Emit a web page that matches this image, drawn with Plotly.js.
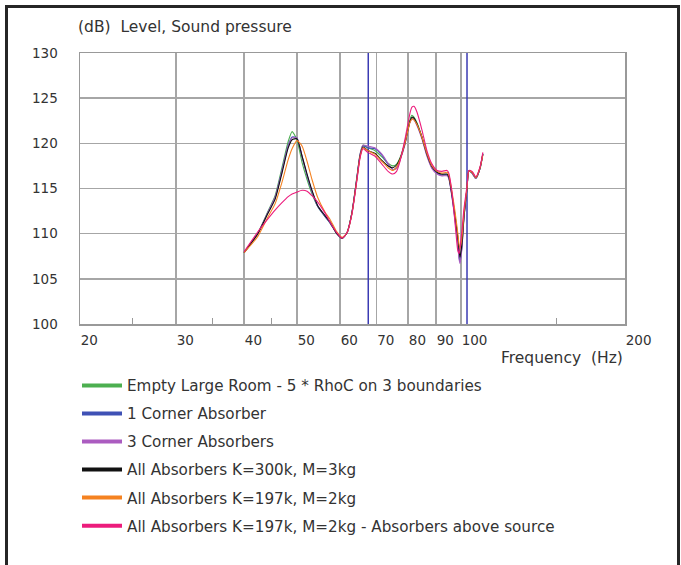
<!DOCTYPE html>
<html>
<head>
<meta charset="utf-8">
<script src="https://cdn.plot.ly/plotly-3.0.1.min.js"></script>
<style>
html, body { margin:0; padding:0; overflow:hidden; background:#fff; width:681px; height:565px; }
#chart { position:absolute; left:0; top:0; width:681px; height:565px; }
#frame { position:absolute; left:5px; top:5px; width:669px; height:640px; border:3px solid #262626; pointer-events:none; z-index:10; }
</style>
</head>
<body>
<div id="chart"></div>
<div id="frame"></div>
<script>
// Frequencies (Hz) shared by all series
const freq = [40, 42.4, 44.2, 45.6, 46.9, 48.2, 49, 50, 51.1, 52.2, 53.3, 54.6, 56.3, 57.5, 59.2, 60.5, 61.8, 63.1, 64.4, 65.3, 66.1, 67.5, 69.5, 71.6, 73.5, 75, 76.2, 77.3, 78.9, 80.6, 81.3, 82, 83, 84.8, 86.6, 88.5, 90.4, 92.3, 94.3, 95, 96.3, 97.5, 98.7, 99.2, 99.6, 100.4, 101.3, 102.6, 103.4, 104.8, 106.5, 108.4, 109.7];

const emptyRoom = [107.9, 110.1, 112.4, 114.2, 117.2, 120.2, 121.3, 120.4, 117.9, 116.0, 114.4, 113.0, 111.9, 111.2, 110.0, 109.5, 110.1, 112.4, 116.2, 118.8, 119.8, 119.5, 119.2, 118.5, 117.8, 117.5, 117.7, 118.4, 120.1, 122.6, 123.1, 122.9, 122.3, 120.7, 118.8, 117.3, 116.7, 116.5, 116.5, 116.2, 114.2, 111.8, 109.2, 107.8, 107.0, 108.5, 111.8, 115.0, 116.9, 116.7, 116.1, 117.2, 118.8];
const oneCorner = [107.9, 110.0, 112.3, 114.0, 116.9, 119.8, 120.7, 120.6, 118.5, 116.4, 114.6, 113.0, 111.9, 111.2, 110.0, 109.5, 110.1, 112.3, 116.1, 118.7, 119.7, 119.5, 119.4, 118.7, 117.7, 117.1, 117.3, 118.2, 119.9, 122.4, 122.8, 122.7, 122.1, 120.6, 118.7, 117.3, 116.7, 116.5, 116.5, 116.2, 114.1, 111.7, 109.0, 107.4, 106.9, 108.5, 111.9, 115.0, 117.0, 116.7, 116.1, 117.2, 118.8];
const threeCorners = [107.9, 110.0, 112.3, 114.0, 116.8, 119.7, 120.6, 120.6, 118.6, 116.5, 114.7, 113.1, 112.0, 111.3, 110.0, 109.5, 110.1, 112.3, 116.1, 118.8, 119.8, 119.7, 119.5, 118.8, 117.8, 117.1, 117.2, 118.1, 119.8, 122.3, 122.7, 122.6, 122.0, 120.5, 118.6, 117.2, 116.6, 116.4, 116.4, 116.1, 114.0, 111.5, 108.7, 107.2, 106.7, 108.3, 111.8, 115.0, 117.0, 116.7, 116.1, 117.2, 118.9];
const allK300 = [107.9, 110.0, 112.2, 113.8, 116.6, 119.5, 120.4, 120.5, 118.6, 116.6, 114.8, 113.1, 112.0, 111.3, 110.0, 109.5, 110.1, 112.3, 116.0, 118.6, 119.6, 119.2, 118.9, 118.1, 117.5, 117.3, 117.6, 118.3, 120.0, 122.4, 122.9, 122.8, 122.2, 120.7, 118.8, 117.4, 116.8, 116.6, 116.6, 116.3, 114.3, 112.1, 109.6, 108.3, 107.4, 108.8, 112.0, 115.0, 116.9, 116.8, 116.2, 117.3, 118.8];
const allK197 = [107.9, 109.7, 111.8, 113.3, 115.6, 118.2, 119.4, 120.3, 119.7, 118.0, 116.0, 114.0, 112.4, 111.6, 110.2, 109.6, 110.1, 112.2, 115.9, 118.5, 119.5, 119.2, 118.8, 118.0, 117.3, 117.0, 117.4, 118.2, 120.0, 122.3, 122.7, 122.6, 122.1, 120.7, 118.9, 117.5, 116.9, 116.7, 116.8, 116.5, 114.6, 112.5, 110.0, 108.8, 108.4, 109.5, 112.3, 115.1, 116.9, 116.8, 116.2, 117.3, 118.7];
const allK197Above = [108.0, 110.2, 111.6, 112.6, 113.4, 114.1, 114.4, 114.6, 114.8, 114.7, 114.2, 113.5, 112.3, 111.3, 110.1, 109.5, 110.1, 112.2, 115.8, 118.4, 119.4, 119.0, 118.6, 117.7, 116.9, 116.6, 116.9, 118.0, 120.4, 123.3, 124.0, 124.1, 123.5, 121.5, 119.2, 117.7, 117.0, 116.9, 117.0, 116.7, 114.6, 111.3, 108.1, 107.8, 108.4, 110.3, 112.8, 115.3, 117.0, 116.9, 116.3, 117.4, 119.0];

const seriesNames = [
  "Empty Large Room - 5 * RhoC on 3 boundaries",
  "1 Corner Absorber",
  "3 Corner Absorbers",
  "All Absorbers K=300k, M=3kg",
  "All Absorbers K=197k, M=2kg",
  "All Absorbers K=197k, M=2kg - Absorbers above source"
];
const seriesValues = [emptyRoom, oneCorner, threeCorners, allK300, allK197, allK197Above];
const seriesColors = ["#4caf50", "#3f51b5", "#ab5cc0", "#111111", "#f58220", "#ec1c7c"];

// Vertical marker lines (Hz)
const markerFreqs = [67.6, 102.6];
const markerSpan = [100, 130];

const xTickVals = [20, 30, 40, 50, 60, 70, 80, 90, 100, 200];
const xTickText = ["20", "30", "40", "50", "60", "70", "80", "90", "100", "200"];
const xMinorTicks = [25, 35, 45, 150];
const yTickVals = [100, 105, 110, 115, 120, 125, 130];

const FONT = "DejaVu Sans, Verdana, sans-serif";
const TXT = 15.5;
const LEG = 15.2;
const traces = [];

markerFreqs.forEach(f => {
  traces.push({x: [f, f], y: markerSpan, mode: "lines", line: {color: "#3b3bb3", width: 1.5},
    showlegend: false, hoverinfo: "skip"});
});

seriesValues.forEach((vals, i) => {
  traces.push({x: freq, y: vals, mode: "lines", name: seriesNames[i],
    line: {color: seriesColors[i], width: 1.1, shape: "spline", smoothing: 0.6}, showlegend: false});
});

// legend-only entries with thick swatches
seriesNames.forEach((n, i) => {
  traces.push({x: [null], y: [null], mode: "lines", name: n, legendgroup: "g" + i,
    line: {color: seriesColors[i], width: 4}, showlegend: true, hoverinfo: "skip"});
});

const layout = {
  width: 681, height: 565,
  margin: {l: 80, r: 56, t: 53, b: 241, autoexpand: false},
  paper_bgcolor: "rgba(0,0,0,0)",
  plot_bgcolor: "#ffffff",
  font: {family: FONT, size: 13, color: "#333333"},
  title: {text: "(dB)\u00A0 Level, Sound pressure", xref: "container", yref: "container",
    x: 78/681, xanchor: "left", y: 1 - 27/565, yanchor: "middle",
    font: {family: FONT, size: TXT, color: "#333333"}},
  xaxis: {type: "log", range: [Math.log10(20), Math.log10(200)], automargin: false,
    tickmode: "array", tickvals: xTickVals, ticktext: xTickText, tickangle: 0,
    ticks: "", showgrid: true, gridcolor: "#a6a6a6", gridwidth: 1.5,
    showline: true, linecolor: "#999999", linewidth: 1.5, mirror: true,
    ticklabelposition: "outside right", ticklabelstandoff: 3,
    tickfont: {family: FONT, size: 13.5, color: "#333333"},
    minor: {tickmode: "array", tickvals: xMinorTicks, ticks: "inside", ticklen: 6, tickcolor: "#999999", tickwidth: 1, showgrid: false},
    zeroline: false, fixedrange: true},
  yaxis: {range: [100, 130], tickmode: "array", tickvals: yTickVals, automargin: false,
    ticks: "", showgrid: true, gridcolor: "#a6a6a6", gridwidth: 1.5,
    showline: true, linecolor: "#999999", linewidth: 1.5, mirror: true,
    ticklabelstandoff: 18,
    tickfont: {family: FONT, size: 13.5, color: "#333333"},
    zeroline: false, fixedrange: true},
  showlegend: true,
  legend: {xref: "container", yref: "container", x: 77/681, xanchor: "left",
    y: 1 - 369/565, yanchor: "top", bgcolor: "rgba(0,0,0,0)", borderwidth: 0,
    font: {family: FONT, size: LEG, color: "#333333"}, tracegroupgap: 5.3, itemwidth: 40,
    traceorder: "grouped"},
  annotations: [{text: "Frequency\u00A0 (Hz)", xref: "paper", yref: "paper", x: 1, xanchor: "right",
    y: -34/271, yanchor: "middle", showarrow: false, font: {family: FONT, size: TXT, color: "#333333"}}]
};

Plotly.newPlot("chart", traces, layout, {displayModeBar: false, staticPlot: true});
</script>
</body>
</html>
